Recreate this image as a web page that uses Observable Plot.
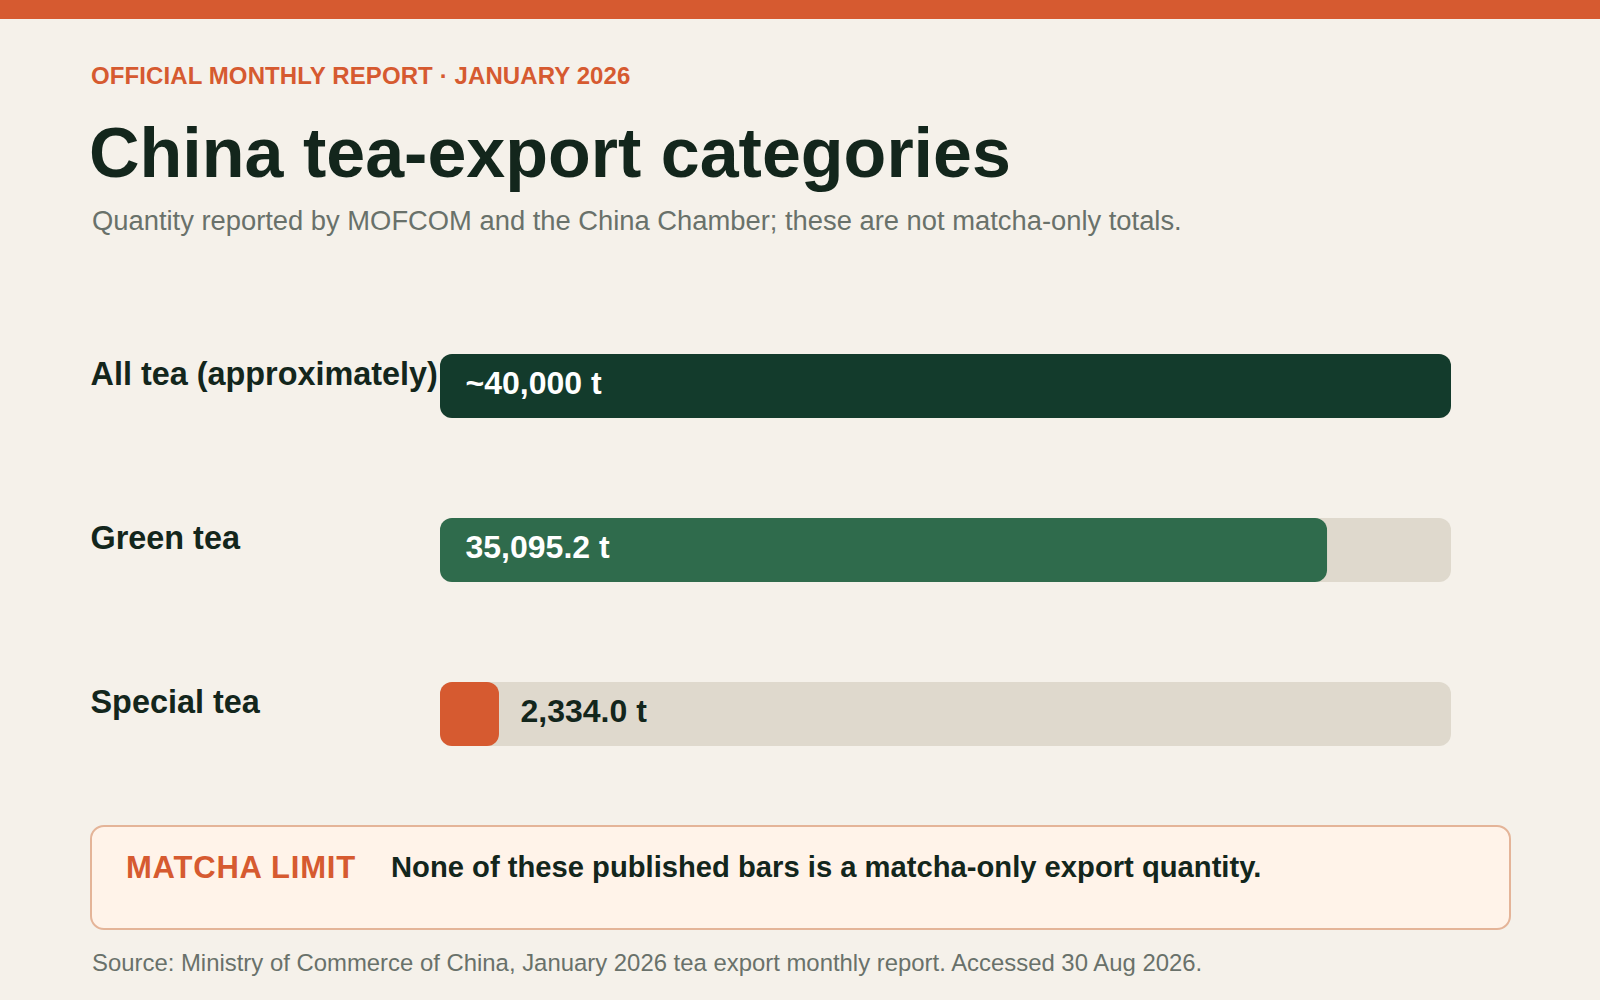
<!DOCTYPE html>
<html>
<head>
<meta charset="utf-8">
<script src="https://cdn.jsdelivr.net/npm/d3@7"></script>
<script src="https://cdn.jsdelivr.net/npm/@observablehq/plot@0.6"></script>
<style>
  html, body { margin: 0; padding: 0; }
  body { width: 1600px; height: 1000px; background: #f5f1ea; position: relative; overflow: hidden;
         font-family: "Liberation Sans", Arial, sans-serif; color: #13261c; }
  .band { position: absolute; left: 0; top: 0; width: 1600px; height: 19px; background: #d65a30; }
  .abs { position: absolute; line-height: 1; white-space: nowrap; }
  .kicker { left: 91px; top: 64px; font-size: 24px; font-weight: bold; color: #d65a30; letter-spacing: 0.1px; }
  .title { left: 89px; top: 118px; font-size: 70px; font-weight: bold; color: #13261c; }
  .subtitle { left: 92px; top: 207px; font-size: 27.35px; color: #69716a; }
  .callout { position: absolute; left: 90px; top: 825px; width: 1421px; height: 105px; box-sizing: border-box;
             border: 2px solid #e4b498; border-radius: 14px; background: #fff3e9; }
  .limit { left: 126px; top: 852px; font-size: 31px; font-weight: bold; color: #d65a30; letter-spacing: 0.8px; }
  .note { left: 391px; top: 853px; font-size: 29.2px; font-weight: bold; color: #13261c; }
  .source { left: 92px; top: 951px; font-size: 23.9px; color: #69716a; }
  #chart { position: absolute; left: 0; top: 300px; }
</style>
</head>
<body>
<div class="band"></div>
<div class="abs kicker">OFFICIAL MONTHLY REPORT · JANUARY 2026</div>
<div class="abs title">China tea-export categories</div>
<div class="abs subtitle">Quantity reported by MOFCOM and the China Chamber; these are not matcha-only totals.</div>
<div id="chart"></div>
<div class="callout"></div>
<div class="abs limit">MATCHA LIMIT</div>
<div class="abs note">None of these published bars is a matcha-only export quantity.</div>
<div class="abs source">Source: Ministry of Commerce of China, January 2026 tea export monthly report. Accessed 30 Aug 2026.</div>
<script>
// ---- data ----
const categories = ["All tea (approximately)", "Green tea", "Special tea"];
const values = [40000, 35095.2, 2334.0];
const valueLabels = ["~40,000 t", "35,095.2 t", "2,334.0 t"];
const scaleMax = 40000;

// ---- styles ----
const barColors = ["#133b2c", "#2f6b4c", "#d65a30"];
const trackColor = "#dfd9cd";
const darkText = "#13261c";

const rows = categories.map((c, i) => ({cat: c, value: values[i], label: valueLabels[i]}));
const inside = d => d.value / scaleMax > 0.2;

const chart = Plot.plot({
  width: 1600,
  height: 500,
  marginLeft: 440,
  marginRight: 149,
  marginTop: 20,
  marginBottom: 20,
  style: {background: "transparent", fontFamily: "'Liberation Sans', Arial, sans-serif", overflow: "visible"},
  x: {domain: [0, scaleMax], axis: null},
  y: {domain: categories, axis: null, paddingInner: 0.612, paddingOuter: 0.2},
  color: {domain: categories, range: barColors},
  marks: [
    Plot.barX(rows, {x1: 0, x2: scaleMax, y: "cat", fill: trackColor, rx: 12}),
    Plot.barX(rows, {x1: 0, x2: "value", y: "cat", fill: "cat", rx: 12}),
    Plot.text(rows, {y: "cat", text: "cat", frameAnchor: "left", dx: -350, dy: -2, textAnchor: "start",
      lineAnchor: "bottom", fontSize: 32.4, fontWeight: "bold", fill: darkText}),
    Plot.text(rows, {filter: inside, x: 0, y: "cat", text: "label", dx: 25, dy: -3, textAnchor: "start",
      fontSize: 32, fontWeight: "bold", fill: "white"}),
    Plot.text(rows, {filter: d => !inside(d), x: "value", y: "cat", text: "label", dx: 21, dy: -3, textAnchor: "start",
      fontSize: 32, fontWeight: "bold", fill: darkText})
  ]
});
document.getElementById("chart").appendChild(chart);
</script>
</body>
</html>
